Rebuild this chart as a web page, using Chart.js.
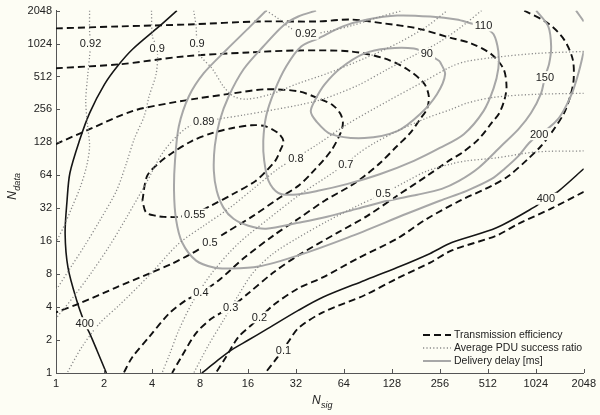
<!DOCTYPE html>
<html><head><meta charset="utf-8">
<script src="https://cdn.jsdelivr.net/npm/chart.js@4.4.1/dist/chart.umd.min.js"></script>
<style>
html,body{margin:0;padding:0;background:#fdfdf4;}
#wrap{width:600px;height:415px;position:relative;}
</style></head><body>
<div id="wrap"><canvas id="c" width="600" height="415"></canvas></div>
<script>
// Axis values are log2 exponents: tick k is labelled 2^k
const xTickExponents = [0,1,2,3,4,5,6,7,8,9,10,11];
const yTickExponents = [0,1,2,3,4,5,6,7,8,9,10,11];

// Transmission efficiency contours  [log2 Nsig, log2 Ndata]
const eff055 = [[1.80,5.23],[1.90,5.98],[2.15,6.38],[2.42,6.68],[2.83,7.04],[3.25,7.28],[3.66,7.43],[4.07,7.52],[4.36,7.49],[4.63,7.28],[4.74,7.04],[4.67,6.74],[4.57,6.44],[4.36,6.10],[4.16,5.83],[3.70,5.44],[3.23,5.08],[2.89,4.84],[2.56,4.74],[2.25,4.74],[2.09,4.77],[1.88,4.87],[1.80,5.23]];
const eff05 = [[0,6.95],[0.70,7.40],[1.59,7.95],[2.36,8.19],[2.98,8.34],[3.70,8.49],[4.36,8.61],[5.05,8.55],[5.46,8.34],[5.77,8.13],[5.93,7.86],[5.98,7.59],[5.93,7.28],[5.73,6.74],[5.31,6.04],[5.05,5.68],[4.63,5.29],[4.11,4.77],[3.54,4.26],[3.21,3.96],[2.83,3.63],[2.42,3.32],[1.94,3.02],[1.26,2.60],[0.50,2.12],[0,1.84]];
const eff04 = [[0,9.25],[1.32,9.37],[2.67,9.61],[4.01,9.73],[5.05,9.79],[6.14,9.76],[6.84,9.55],[7.32,9.22],[7.67,8.79],[7.77,8.40],[7.73,8.01],[7.59,7.71],[7.38,7.28],[7.11,6.89],[6.76,6.38],[6.43,5.98],[6.14,5.68],[5.60,5.23],[5.05,4.68],[4.53,4.17],[3.91,3.48],[3.39,2.81],[3.02,2.45],[2.71,2.21],[2.36,1.81],[1.94,1.09],[1.59,0.48],[1.41,0]];
const eff03 = [[0,10.46],[1.32,10.52],[2.77,10.58],[4.22,10.67],[5.46,10.67],[6.14,10.73],[6.84,10.61],[7.53,10.46],[8.21,10.18],[8.66,10.00],[9.08,9.67],[9.33,9.22],[9.39,8.70],[9.35,8.31],[9.24,7.89],[9.08,7.59],[8.81,7.10],[8.46,6.68],[8.25,6.50],[7.73,5.98],[7.11,5.38],[6.49,4.77],[5.87,4.26],[5.05,3.57],[4.53,3.05],[4.01,2.42],[3.64,1.99],[3.25,1.66],[2.92,1.21],[2.61,0.48],[2.42,0]];
const eff02 = [[9.76,11.0],[10.26,10.61],[10.59,10.12],[10.77,9.52],[10.79,8.92],[10.73,8.46],[10.59,7.89],[10.32,7.28],[10.11,6.89],[9.84,6.50],[9.43,5.98],[9.08,5.68],[8.42,5.23],[7.73,4.68],[7.11,4.08],[6.29,3.48],[5.56,2.90],[5.05,2.57],[4.53,2.06],[4.26,1.69],[4.07,1.45],[3.80,1.09],[3.54,0.48],[3.33,0]];
const eff01 = [[11.0,5.50],[10.32,4.99],[9.64,4.53],[9.18,4.17],[8.25,3.72],[7.80,3.35],[7.11,2.87],[6.43,2.36],[5.56,1.84],[5.05,1.36],[4.84,0.94],[4.69,0.63],[4.57,0.39],[4.36,0]];

// Average PDU success ratio contours
const pdu092a = [[0.70,11.0],[0.70,10.37],[0.72,10.00],[0.70,9.61],[0.66,9.01],[0.62,8.25],[0.66,7.49],[0.70,6.89],[0.64,6.29],[0.50,5.62],[0.33,5.02],[0.17,4.47],[0,3.96]];
const pdu09a = [[1.99,11.0],[2.01,10.21],[2.11,9.85],[2.09,9.10],[1.94,8.40],[1.84,7.80],[1.63,7.10],[1.47,6.38],[1.26,5.53],[0.91,4.62],[0.60,3.87],[0.29,3.17],[0,2.51]];
const pdu09b = [[2.87,11.0],[2.92,10.52],[2.94,10.00],[3.02,9.61],[3.25,9.25],[3.49,8.70],[3.70,8.40],[3.97,8.31],[4.47,8.46],[5.05,8.79],[5.67,9.10],[6.43,9.55],[7.11,10.00],[7.73,10.52],[8.15,11.0]];
const pdu092b = [[4.38,11.0],[4.63,10.76],[4.90,10.46],[5.21,10.28],[5.67,10.37],[6.18,10.55],[6.70,10.79],[7.22,11.0]];
const pdu089 = [[8.87,11.0],[8.46,10.52],[7.94,10.00],[7.42,9.61],[6.91,9.22],[6.29,8.73],[5.56,8.31],[5.05,8.13],[4.38,7.95],[3.91,7.83],[3.39,7.71],[3.08,7.62],[2.71,7.43],[2.25,6.74],[1.88,5.77],[1.49,4.77],[1.12,3.87],[0.74,3.05],[0.39,2.36],[0,1.66]];
const pdu08 = [[11.0,9.76],[10.01,9.70],[9.14,9.58],[8.56,9.46],[8.25,9.31],[7.67,8.85],[6.91,8.25],[6.08,7.56],[5.46,6.95],[5.00,6.53],[4.63,6.20],[4.11,5.59],[3.60,4.99],[3.08,4.47],[2.56,3.93],[1.94,2.96],[1.32,2.06],[0.91,1.51],[0.54,0.79],[0.23,0]];
const pdu07 = [[11.0,8.49],[10.01,8.46],[9.14,8.37],[8.56,8.19],[8.25,8.01],[7.73,7.74],[7.11,7.34],[6.60,6.95],[6.29,6.65],[6.04,6.35],[5.67,5.98],[5.05,5.38],[4.43,4.68],[3.80,3.93],[3.29,3.11],[2.87,2.21],[2.56,1.30],[2.36,0.54],[2.21,0]];
const pdu05 = [[11.0,6.74],[10.01,6.71],[9.18,6.53],[8.56,6.44],[8.25,6.35],[7.73,6.13],[7.32,5.83],[6.82,5.44],[6.29,5.08],[5.67,4.62],[5.05,4.11],[4.53,3.63],[4.11,3.05],[3.80,2.36],[3.49,1.60],[3.18,0.85],[2.87,0]];

// Delivery delay contours [ms]
const delay90 = [[8.00,9.46],[7.73,9.70],[7.46,9.85],[6.91,9.85],[6.43,9.70],[5.93,9.25],[5.60,8.76],[5.42,8.34],[5.31,7.95],[5.42,7.65],[5.73,7.25],[6.43,7.13],[7.11,7.34],[7.59,7.86],[7.94,8.46],[8.11,9.07],[8.00,9.46]];
const delay110 = [[8.91,10.52],[9.12,10.28],[9.22,9.76],[9.22,9.25],[9.12,8.64],[8.91,7.95],[8.50,7.25],[8.00,6.83],[7.46,6.44],[6.76,6.04],[6.08,5.74],[5.46,5.53],[4.94,5.41],[4.63,5.47],[4.43,5.83],[4.34,6.44],[4.32,7.04],[4.38,7.80],[4.55,8.55],[4.80,9.31],[5.11,9.91],[5.46,10.15],[5.98,10.52],[6.49,10.73],[7.11,10.85],[7.80,10.82],[8.35,10.73],[8.66,10.61],[8.91,10.52]];
const delay150 = [[5.42,11.0],[5.05,10.82],[4.74,10.55],[4.32,9.91],[3.91,9.22],[3.60,8.40],[3.41,7.65],[3.31,6.89],[3.29,6.13],[3.35,5.53],[3.49,5.02],[3.70,4.68],[4.01,4.47],[4.38,4.38],[5.05,4.56],[5.56,4.71],[6.29,4.99],[6.91,5.23],[7.53,5.41],[8.04,5.59],[8.40,5.83],[8.81,6.23],[9.28,6.89],[9.64,7.40],[9.90,7.89],[10.11,8.49],[10.19,8.98],[10.28,9.40],[10.32,9.91],[10.26,10.52],[10.01,11.0]];
const delay200 = [[4.38,11.0],[4.05,10.52],[3.56,9.82],[3.08,9.10],[2.77,8.40],[2.56,7.49],[2.48,6.44],[2.46,5.53],[2.50,4.68],[2.63,3.96],[2.92,3.41],[3.29,3.20],[3.60,3.17],[4.22,3.23],[5.05,3.57],[6.08,4.11],[7.32,4.84],[8.00,5.23],[8.56,5.53],[9.08,5.89],[9.35,6.20],[9.64,6.59],[9.86,6.98],[10.07,7.25],[10.26,7.43],[10.48,7.74],[10.63,8.10],[10.77,8.55],[10.90,9.16],[11.0,9.76]];
const delay200corner = [[10.84,11.0],[11.0,10.67]];
const delay400a = [[2.52,11.0],[2.15,10.52],[1.59,9.82],[1.28,9.31],[1.01,8.76],[0.70,7.89],[0.50,7.10],[0.29,6.07],[0.23,5.23],[0.19,4.23],[0.25,3.20],[0.43,2.21],[0.60,1.51],[0.70,1.21],[0.85,0.70],[1.05,0]];
const delay400b = [[3.04,0],[3.35,0.36],[3.66,0.70],[4.01,1.00],[4.36,1.30],[5.05,1.90],[5.56,2.30],[6.43,2.81],[7.11,3.20],[7.80,3.63],[8.25,3.96],[9.18,4.41],[9.95,5.02],[10.21,5.29],[10.48,5.53],[11.0,6.20]];

// Contour labels: text, log2 Nsig, log2 Ndata
const contourLabels = [
  ['0.92',0.72,10.00],['0.9',2.11,9.85],['0.9',2.94,10.00],['0.92',5.21,10.30],
  ['110',8.91,10.55],['90',7.73,9.70],['150',10.19,8.98],['200',10.07,7.25],['400',10.21,5.29],
  ['0.89',3.08,7.62],['0.8',5.00,6.50],['0.7',6.04,6.33],['0.5',6.82,5.44],
  ['0.55',2.89,4.81],['0.5',3.21,3.96],['0.4',3.02,2.45],['0.3',3.64,1.99],['0.2',4.24,1.69],['0.1',4.74,0.69],
  ['400',0.60,1.51]
];
const legendLabels = ['Transmission efficiency','Average PDU success ratio','Delivery delay [ms]'];

const BG = '#fdfdf4';
const FONT = '"Liberation Sans", Arial, Helvetica, sans-serif';
const styles = {
  eff:   {borderColor:'#111111', borderWidth:1.9, borderDash:[7,4]},
  pdu:   {borderColor:'#8a8a8a', borderWidth:1.3, borderDash:[1.2,2.2]},
  delay: {borderColor:'#a7a7a7', borderWidth:2},
  dblk:  {borderColor:'#161616', borderWidth:1.6}
};
const series = [
  [pdu092a,'pdu'],[pdu09a,'pdu'],[pdu09b,'pdu'],[pdu092b,'pdu'],[pdu089,'pdu'],[pdu08,'pdu'],[pdu07,'pdu'],[pdu05,'pdu'],
  [delay90,'delay'],[delay110,'delay'],[delay150,'delay'],[delay200,'delay'],[delay200corner,'delay'],
  [delay400a,'dblk'],[delay400b,'dblk'],
  [eff055,'eff'],[eff05,'eff'],[eff04,'eff'],[eff03,'eff'],[eff02,'eff'],[eff01,'eff']
];
const datasets = series.map(([arr,st]) => Object.assign({
  data: arr.map(p => ({x:p[0], y:p[1]})),
  showLine:true, pointRadius:0, pointHoverRadius:0, fill:false, tension:0.3,
  borderCapStyle:'butt'
}, styles[st]));

const decor = {
  id:'decor',
  beforeDraw(chart){
    const ctx = chart.ctx;
    ctx.save(); ctx.fillStyle = BG; ctx.fillRect(0,0,chart.width,chart.height); ctx.restore();
  },
  afterDatasetsDraw(chart){
    const ctx = chart.ctx, sx = chart.scales.x, sy = chart.scales.y;
    ctx.save();
    ctx.font = '11px ' + FONT;
    ctx.textAlign = 'center'; ctx.textBaseline = 'middle';
    contourLabels.forEach(([t,x,y]) => {
      const px = sx.getPixelForValue(x), py = sy.getPixelForValue(y);
      const w = ctx.measureText(t).width;
      ctx.fillStyle = BG;
      ctx.fillRect(px - w/2 - 2, py - 6, w + 4, 12);
      ctx.fillStyle = '#222';
      ctx.fillText(t, px, py + 0.5);
    });
    ctx.restore();
  },
  afterDraw(chart){
    const ctx = chart.ctx, a = chart.chartArea, sx = chart.scales.x, sy = chart.scales.y;
    ctx.save();
    // inward ticks
    ctx.strokeStyle = '#555'; ctx.lineWidth = 1;
    ctx.beginPath();
    xTickExponents.forEach(v => { const p = Math.round(sx.getPixelForValue(v)) + 0.5; ctx.moveTo(p, a.bottom); ctx.lineTo(p, a.bottom - 4); });
    yTickExponents.forEach(v => { const p = Math.round(sy.getPixelForValue(v)) + 0.5; ctx.moveTo(a.left, p); ctx.lineTo(a.left + 4, p); });
    ctx.stroke();
    // axis titles
    ctx.fillStyle = '#222'; ctx.textBaseline = 'alphabetic'; ctx.textAlign = 'left';
    const cx = (a.left + a.right) / 2;
    ctx.font = 'italic 12px ' + FONT;
    const nw = ctx.measureText('N').width;
    ctx.fillText('N', cx - 8, 404);
    ctx.font = 'italic 9px ' + FONT;
    ctx.fillText('sig', cx - 8 + nw + 0.5, 408);
    ctx.save();
    ctx.translate(16, (a.top + a.bottom) / 2 + 8);
    ctx.rotate(-Math.PI / 2);
    ctx.font = 'italic 12px ' + FONT;
    ctx.fillText('N', 0, 0);
    ctx.font = 'italic 9px ' + FONT;
    ctx.fillText('data', nw + 0.5, 4);
    ctx.restore();
    // legend
    const lx0 = 423, lx1 = 451, ly = [335, 348, 361];
    const lst = [styles.eff, styles.pdu, styles.delay];
    lst.forEach((s, i) => {
      ctx.beginPath();
      ctx.strokeStyle = s.borderColor; ctx.lineWidth = s.borderWidth;
      ctx.setLineDash(s.borderDash || []);
      ctx.moveTo(lx0, ly[i]); ctx.lineTo(lx1, ly[i]); ctx.stroke();
    });
    ctx.setLineDash([]);
    ctx.font = '10.5px ' + FONT; ctx.fillStyle = '#222'; ctx.textBaseline = 'middle';
    legendLabels.forEach((t, i) => ctx.fillText(t, 454, ly[i] + 0.5));
    ctx.restore();
  }
};

const tickFont = {size:11, family:FONT};
new Chart(document.getElementById('c'), {
  type:'scatter',
  data:{datasets},
  options:{
    responsive:false, animation:false, devicePixelRatio:1,
    layout:{padding:{left:0, right:12, top:9, bottom:0}},
    plugins:{legend:{display:false}, tooltip:{enabled:false}},
    events:[],
    scales:{
      x:{type:'linear', min:0, max:11, position:'bottom',
        afterFit(s){ s.height = 42; },
        afterBuildTicks(s){ s.ticks = xTickExponents.map(v => ({value:v})); },
        ticks:{callback:v => String(Math.pow(2, v)), font:tickFont, color:'#222', padding:4, maxRotation:0, autoSkip:false},
        grid:{display:true, drawOnChartArea:false, drawTicks:false},
        border:{display:true, color:'#555', width:1}
      },
      y:{type:'linear', min:0, max:11, position:'left',
        afterFit(s){ s.width = 56; },
        afterBuildTicks(s){ s.ticks = yTickExponents.map(v => ({value:v})); },
        ticks:{callback:v => String(Math.pow(2, v)), font:tickFont, color:'#222', padding:4, autoSkip:false},
        grid:{display:true, drawOnChartArea:false, drawTicks:false},
        border:{display:true, color:'#555', width:1}
      }
    }
  },
  plugins:[decor]
});
</script>
</body></html>
